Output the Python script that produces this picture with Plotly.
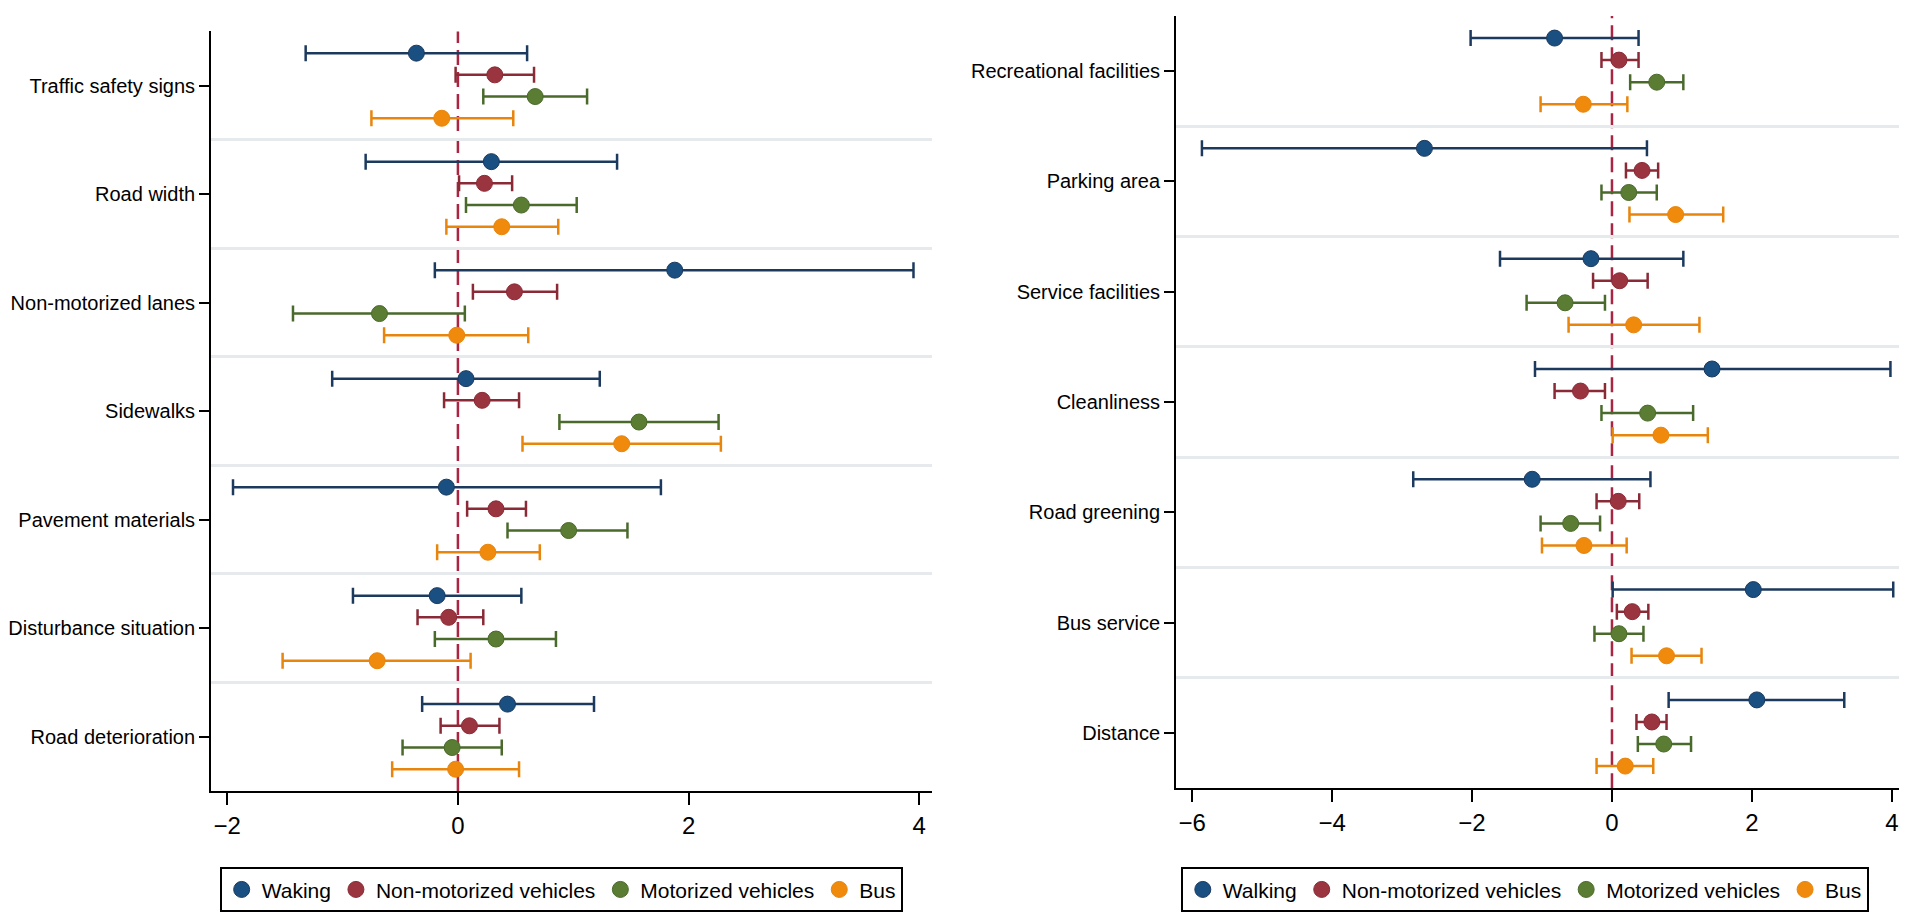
import plotly.graph_objects as go

# ── Datos ──────────────────────────────────────────────────────────────────
left_cats = ["Traffic safety signs", "Road width", "Non-motorized lanes", "Sidewalks",
             "Pavement materials", "Disturbance situation", "Road deterioration"]
right_cats = ["Recreational facilities", "Parking area", "Service facilities", "Cleanliness",
              "Road greening", "Bus service", "Distance"]

left_names = ["Waking", "Non-motorized vehicles", "Motorized vehicles", "Bus"]
right_names = ["Walking", "Non-motorized vehicles", "Motorized vehicles", "Bus"]

# panel izquierdo: estimacion, limite inferior, limite superior
l_walk_est = [-0.36, 0.29, 1.88, 0.07, -0.10, -0.18, 0.43]
l_walk_lo  = [-1.32, -0.80, -0.20, -1.09, -1.95, -0.91, -0.31]
l_walk_hi  = [0.60, 1.38, 3.95, 1.23, 1.76, 0.55, 1.18]
l_nmv_est  = [0.32, 0.23, 0.49, 0.21, 0.33, -0.08, 0.10]
l_nmv_lo   = [-0.02, 0.01, 0.13, -0.12, 0.08, -0.35, -0.15]
l_nmv_hi   = [0.66, 0.47, 0.86, 0.53, 0.59, 0.22, 0.36]
l_mv_est   = [0.67, 0.55, -0.68, 1.57, 0.96, 0.33, -0.05]
l_mv_lo    = [0.22, 0.07, -1.43, 0.88, 0.43, -0.20, -0.48]
l_mv_hi    = [1.12, 1.03, 0.06, 2.26, 1.47, 0.85, 0.38]
l_bus_est  = [-0.14, 0.38, -0.01, 1.42, 0.26, -0.70, -0.02]
l_bus_lo   = [-0.75, -0.10, -0.64, 0.56, -0.18, -1.52, -0.57]
l_bus_hi   = [0.48, 0.87, 0.61, 2.28, 0.71, 0.11, 0.53]

# panel derecho
r_walk_est = [-0.82, -2.68, -0.30, 1.43, -1.14, 2.02, 2.07]
r_walk_lo  = [-2.02, -5.86, -1.60, -1.10, -2.84, 0.01, 0.81]
r_walk_hi  = [0.38, 0.50, 1.02, 3.98, 0.55, 4.02, 3.32]
r_nmv_est  = [0.10, 0.43, 0.11, -0.45, 0.09, 0.29, 0.57]
r_nmv_lo   = [-0.15, 0.20, -0.27, -0.82, -0.22, 0.07, 0.35]
r_nmv_hi   = [0.38, 0.66, 0.51, -0.10, 0.39, 0.52, 0.78]
r_mv_est   = [0.64, 0.24, -0.67, 0.51, -0.59, 0.10, 0.74]
r_mv_lo    = [0.26, -0.15, -1.22, -0.15, -1.02, -0.25, 0.37]
r_mv_hi    = [1.02, 0.64, -0.10, 1.16, -0.17, 0.45, 1.13]
r_bus_est  = [-0.41, 0.91, 0.31, 0.70, -0.40, 0.78, 0.19]
r_bus_lo   = [-1.02, 0.25, -0.62, 0.01, -1.00, 0.28, -0.22]
r_bus_hi   = [0.22, 1.59, 1.25, 1.37, 0.21, 1.28, 0.59]

left_series = [(l_walk_est, l_walk_lo, l_walk_hi), (l_nmv_est, l_nmv_lo, l_nmv_hi),
               (l_mv_est, l_mv_lo, l_mv_hi), (l_bus_est, l_bus_lo, l_bus_hi)]
right_series = [(r_walk_est, r_walk_lo, r_walk_hi), (r_nmv_est, r_nmv_lo, r_nmv_hi),
                (r_mv_est, r_mv_lo, r_mv_hi), (r_bus_est, r_bus_lo, r_bus_hi)]

# Colores (estilo Stata)
FILL = ["#1a4f82", "#9a3540", "#5a7d33", "#f08a0c"]
LINE = ["#1c3a5e", "#8a2a36", "#4a6a2c", "#e8850c"]
GRID = "#e6eaed"
REF  = "#ab2543"
FONT = "Liberation Sans, Arial, sans-serif"
OFFSETS = [-0.3, -0.1, 0.1, 0.3]

fig = go.Figure()


def add_panel(series, names, cats, xa, ya, legend):
    for k, (est, lo, hi) in enumerate(series):
        ypos = [i + OFFSETS[k] for i in range(len(cats))]
        fig.add_trace(go.Scatter(
            x=est, y=ypos, mode="markers", name=names[k],
            xaxis=xa, yaxis=ya, legend=legend,
            marker=dict(size=16, color=FILL[k], line=dict(color=LINE[k], width=1)),
            error_x=dict(type="data", symmetric=False,
                         array=[h - e for h, e in zip(hi, est)],
                         arrayminus=[e - l for e, l in zip(est, lo)],
                         color=LINE[k], thickness=2.5, width=8),
        ))


add_panel(left_series, left_names, left_cats, "x", "y", "legend")
add_panel(right_series, right_names, right_cats, "x2", "y2", "legend2")

# linea de referencia en 0
for xr, yr in [("x", "y domain"), ("x2", "y2 domain")]:
    fig.add_shape(type="line", xref=xr, yref=yr, x0=0, x1=0, y0=0, y1=1,
                  line=dict(color=REF, width=2.5, dash="15px,7px"), layer="below")


def yaxis_style(cats, domain):
    return dict(
        domain=domain, range=[len(cats) - 0.5, -0.5],
        tickmode="array", tickvals=list(range(len(cats))), ticktext=cats,
        showline=True, linecolor="black", linewidth=2,
        ticks="outside", ticklen=10, tickwidth=2, tickcolor="black",
        tickfont=dict(size=20, color="black", family=FONT),
        showgrid=False, zeroline=False, automargin=False,
        minor=dict(tickmode="array", tickvals=[i + 0.5 for i in range(len(cats) - 1)],
                   showgrid=True, gridcolor=GRID, gridwidth=3, ticks=""),
    )


def xaxis_style(domain, rng, ticks):
    return dict(
        domain=domain, range=rng, tickmode="array", tickvals=ticks,
        showline=True, linecolor="black", linewidth=2,
        ticks="outside", ticklen=12, tickwidth=2, tickcolor="black",
        tickfont=dict(size=24, color="black", family=FONT),
        showgrid=False, zeroline=False, automargin=False,
    )


legend_style = dict(
    orientation="h", xanchor="left", yanchor="top", y=0.066,
    bordercolor="black", borderwidth=2, bgcolor="white",
    font=dict(size=21, color="black", family=FONT),
)

fig.update_layout(
    width=1907, height=920,
    template="none",
    paper_bgcolor="white", plot_bgcolor="white",
    font=dict(family=FONT, color="black"),
    margin=dict(l=0, r=0, t=0, b=0),
    showlegend=True,
    xaxis=dict(xaxis_style([0.1065, 0.4845], [-2.14, 4.11], [-2, 0, 2, 4]), anchor="y"),
    yaxis=dict(yaxis_style(left_cats, [0.149, 0.9745]), anchor="x"),
    xaxis2=dict(xaxis_style([0.6125, 0.9963], [-6.23, 4.23], [-6, -4, -2, 0, 2, 4]), anchor="y2"),
    yaxis2=dict(yaxis_style(right_cats, [0.152, 0.9913]), anchor="x2"),
    legend=dict(legend_style, x=0.111),
    legend2=dict(legend_style, x=0.615),
)

fig.write_html("out.html")
